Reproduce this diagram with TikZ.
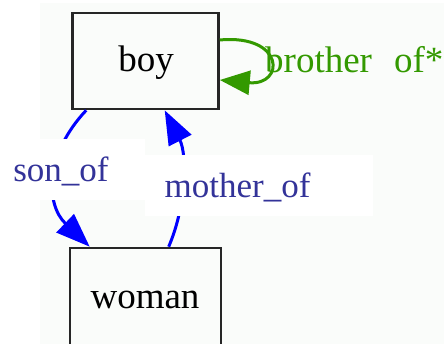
\documentclass[tikz,border=0pt]{standalone}
\usepackage{fontspec}
\setmainfont{Liberation Serif}
\usetikzlibrary{arrows.meta,calc}
\definecolor{bgc}{RGB}{250,252,250}
\definecolor{edgeblue}{RGB}{0,0,255}
\definecolor{lblblue}{RGB}{51,51,153}
\definecolor{loopgreen}{RGB}{51,153,0}
\begin{document}
\begin{tikzpicture}[x=1pt,y=1pt,
  box/.style={draw=black!85,line width=2.6pt,minimum width=146pt,minimum height=96pt,inner sep=0pt,
    font=\fontsize{36}{40}\selectfont},
  bedge/.style={draw=edgeblue,line width=3pt,-{Triangle[length=34pt,width=25pt]}},
  gedge/.style={draw=loopgreen,line width=3pt,-{Triangle[length=30pt,width=24pt]}},
  lbl/.style={text=lblblue,font=\fontsize{35}{40}\selectfont,inner sep=0pt,anchor=base},
  lblbg/.style={fill=white,draw=none}]
\useasboundingbox (0,0) rectangle (444,344);
\fill[bgc] (40,0) rectangle (444,341);
% nodes
\node[box] (boy) at (145.5,283) {};
\node[anchor=base,inner sep=0pt,font=\fontsize{37}{40}\selectfont] (boytxt) at (146,272) {boy};
\begin{scope}
\clip (0,0) rectangle (444,344);
\node[box,minimum width=151pt,minimum height=104pt] (woman) at (145.5,44) {};
\end{scope}
\node[anchor=base,inner sep=0pt,font=\fontsize{37}{40}\selectfont] (womantxt) at (145,35) {woman};
% edges
\coordinate (s1) at ($(boy.south west)+(15,0)$);
\coordinate (s2) at ($(woman.north west)+(21,0)$);
\draw[bedge] (s1) .. controls (45,190) and (45,140) .. (s2);
\coordinate (m1) at ($(woman.north west)+(100,0)$);
\coordinate (m2) at ($(boy.south west)+(93.5,0)$);
\draw[bedge] (m1) .. controls (187,140) and (187,190) .. (m2);
\coordinate (g1) at ($(boy.east)+(0,21)$);
\coordinate (g2) at ($(boy.east)+(0,-19)$);
\draw[gedge] (g1) .. controls (285,310) and (285,258) .. (g2);
% labels
\fill[lblbg] (0,144) rectangle (145,205);
\node[lbl] (sonof) at (61,162) {son\_of};
\fill[lblbg] (145,128) rectangle (373,189);
\node[lbl] (motherof) at (237.5,146) {mother\_of};
\node[text=loopgreen,font=\fontsize{37}{40}\selectfont,inner sep=0pt,anchor=base west] (brotherof) at (265,271) {brother\hspace{22pt}of*};
\end{tikzpicture}
\end{document}
